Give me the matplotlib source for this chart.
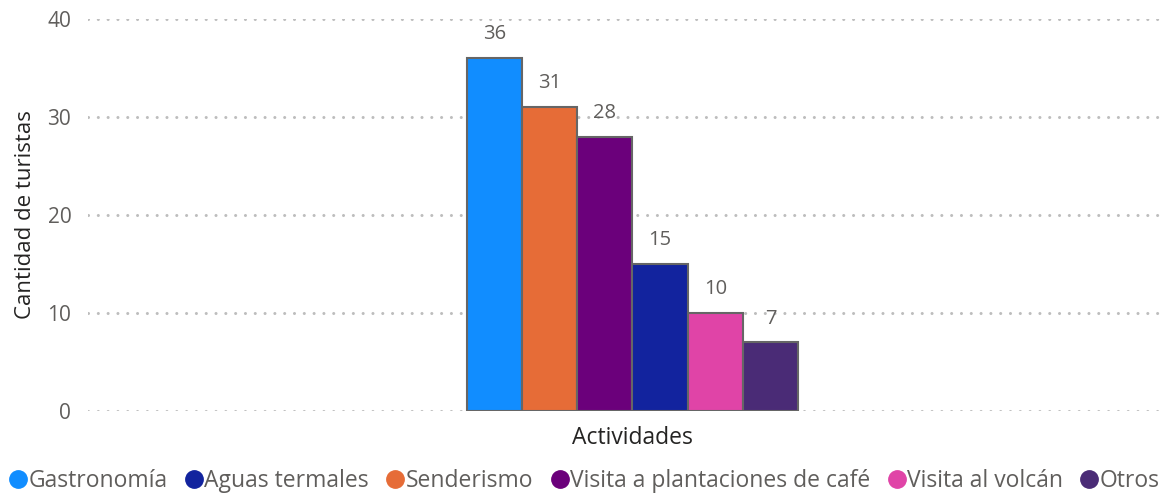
import numpy as np
import matplotlib.pyplot as plt
from matplotlib.lines import Line2D

############################################
# data (bar order as drawn)
actividades = ['Gastronomía', 'Senderismo', 'Visita a plantaciones de café',
               'Aguas termales', 'Visita al volcán', 'Otros']
turistas = [36, 31, 28, 15, 10, 7]
colores = ['#118DFF', '#E66C37', '#6B007B', '#12239E', '#E044A7', '#4A2B76']

# legend order as shown under the chart
orden_leyenda = ['Gastronomía', 'Aguas termales', 'Senderismo',
                 'Visita a plantaciones de café', 'Visita al volcán', 'Otros']

gris = '#605E5C'
plt.rcParams['font.family'] = ['Open Sans', 'DejaVu Sans']

############################################
# plot
fig, ax = plt.subplots(figsize=(11.68, 4.97), dpi=100)
fig.subplots_adjust(left=0.0753, right=0.993, top=0.962, bottom=0.173)

w = 0.0515
n = len(turistas)
xpos = (np.arange(n) - (n - 1) / 2) * w

bars = ax.bar(xpos, turistas, width=w, color=colores,
              edgecolor='#666666', linewidth=1.5, zorder=3)

for x, v in zip(xpos, turistas):
    ax.annotate(str(v), (x, v), xytext=(0, 10), textcoords='offset points',
                ha='center', va='bottom', fontsize=14.5, color=gris)

x0, x1 = -0.508, 0.492
ax.set_xlim(x0, x1)
ax.set_ylim(0, 40)
ax.set_yticks([0, 10, 20, 30, 40])
ax.set_xticks([])

ax.grid(axis='y', color='#BDBDBD', linestyle=(0, (0.01, 3.2)),
        linewidth=2.2, dash_capstyle='round', zorder=0)
for s in ax.spines.values():
    s.set_visible(False)
ax.tick_params(axis='y', length=0, pad=12, labelsize=15, labelcolor=gris)

ax.set_xlabel('Actividades', fontsize=16.5, color='#252423')
ax.xaxis.set_label_coords((0 - x0) / (x1 - x0), -0.038)
ax.xaxis.label.set_va('top')
ax.set_ylabel('Cantidad de turistas', fontsize=16, color='#252423', labelpad=8)

# legend
handles = []
for nombre in orden_leyenda:
    c = colores[actividades.index(nombre)]
    handles.append(Line2D([], [], marker='o', linestyle='none', markersize=12.5,
                          markerfacecolor=c, markeredgecolor=c))
fig.legend(handles, orden_leyenda, loc='center left', bbox_to_anchor=(0.0, 0.032),
           ncol=6, frameon=False, fontsize=16.5, labelcolor=gris,
           handletextpad=0.05, columnspacing=0.75, handlelength=0.8,
           borderaxespad=0)

fig.savefig('out.png', dpi=100)
